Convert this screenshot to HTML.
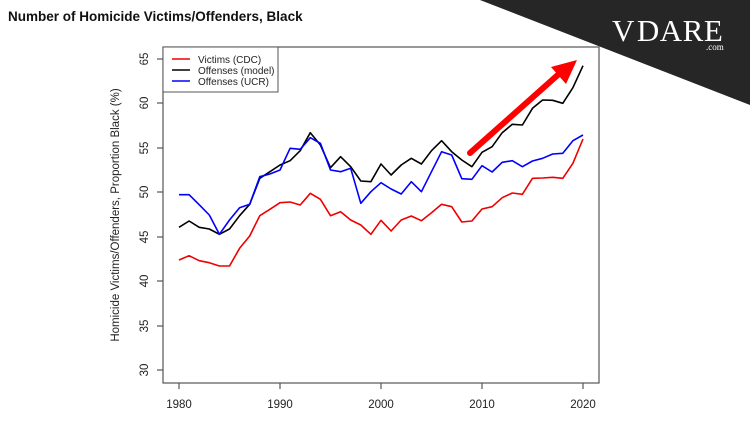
<!DOCTYPE html>
<html><head><meta charset="utf-8"><style>
html,body{margin:0;padding:0;background:#fff;}
svg{display:block;font-family:"Liberation Sans",Arial,sans-serif;}
</style></head><body>
<svg width="750" height="422" viewBox="0 0 750 422" xmlns="http://www.w3.org/2000/svg">
<rect width="750" height="422" fill="#fff"/>
<polygon points="480,0 750,0 750,105" fill="#262626"/>
<text x="612" y="41" font-family="Liberation Serif,serif" font-size="31" fill="#fff" letter-spacing="0.5">V<tspan dx="2">DARE</tspan></text>
<text x="706" y="50" font-family="Liberation Serif,serif" font-size="9" fill="#fff">.com</text>
<text x="8" y="21" font-size="13.5" font-weight="bold" fill="#111">Number of Homicide Victims/Offenders, Black</text>
<rect x="163" y="47" width="436" height="336" fill="none" stroke="#555" stroke-width="1.2"/>
<g stroke="#555" stroke-width="1.2">
<line x1="163" y1="370" x2="157" y2="370"/><line x1="163" y1="326" x2="157" y2="326"/>
<line x1="163" y1="281" x2="157" y2="281"/><line x1="163" y1="237" x2="157" y2="237"/>
<line x1="163" y1="192" x2="157" y2="192"/><line x1="163" y1="148" x2="157" y2="148"/>
<line x1="163" y1="103" x2="157" y2="103"/><line x1="163" y1="59" x2="157" y2="59"/>
<line x1="179" y1="383" x2="179" y2="389"/><line x1="280" y1="383" x2="280" y2="389"/>
<line x1="381" y1="383" x2="381" y2="389"/><line x1="482" y1="383" x2="482" y2="389"/>
<line x1="583" y1="383" x2="583" y2="389"/>
</g>
<g font-size="11.5" fill="#222" text-anchor="middle">
<text transform="translate(148,370) rotate(-90)">30</text>
<text transform="translate(148,326) rotate(-90)">35</text>
<text transform="translate(148,281) rotate(-90)">40</text>
<text transform="translate(148,237) rotate(-90)">45</text>
<text transform="translate(148,192) rotate(-90)">50</text>
<text transform="translate(148,148) rotate(-90)">55</text>
<text transform="translate(148,103) rotate(-90)">60</text>
<text transform="translate(148,59) rotate(-90)">65</text>
<text x="179" y="408">1980</text><text x="280" y="408">1990</text><text x="381" y="408">2000</text><text x="482" y="408">2010</text><text x="583" y="408">2020</text>
<text transform="translate(119,215) rotate(-90)">Homicide Victims/Offenders, Proportion Black (%)</text>
</g>
<g fill="none" stroke-width="1.6" stroke-linejoin="round">
<polyline stroke="#e00" points="179,260 189.1,255.7 199.2,260.7 209.3,262.7 219.4,266 229.5,266 239.6,248.3 249.7,236 259.8,215.7 269.9,209.3 280,202.7 290.1,202 300.2,205 310.3,193.3 320.4,199.3 330.5,215.7 340.6,211.7 350.7,220 360.8,225 370.9,234.3 381,220.3 391.1,231 401.2,220 411.3,216 421.4,220.7 431.5,212.7 441.6,204.3 451.7,206.7 461.8,222 471.9,221 482,209 492.1,206.7 502.2,197.7 512.3,193 522.4,194.3 532.5,178.3 542.6,178 552.7,177.3 562.8,178.3 572.9,163.3 583,139"/>
<polyline stroke="#000" points="179,227.3 189.1,221 199.2,227.3 209.3,229 219.4,234.3 229.5,229 239.6,215.7 249.7,204.3 259.8,178.3 269.9,171.7 280,165 290.1,160.7 300.2,150.7 310.3,132.7 320.4,145 330.5,167.7 340.6,156.7 350.7,166.7 360.8,181 370.9,181.7 381,164 391.1,175 401.2,165 411.3,158.3 421.4,164 431.5,150.7 441.6,140.7 451.7,151.7 461.8,160 471.9,166.7 482,152.3 492.1,146.7 502.2,132.7 512.3,124.3 522.4,125 532.5,108.3 542.6,100 552.7,100.3 562.8,103.3 572.9,87.7 583,65.7"/>
<polyline stroke="#00f" points="179,194.7 189.1,194.7 199.2,204.7 209.3,215 219.4,234.3 229.5,220 239.6,207.7 249.7,204.3 259.8,176.7 269.9,174 280,170 290.1,148.3 300.2,149.3 310.3,137.7 320.4,143.3 330.5,170 340.6,171.7 350.7,168.3 360.8,203.3 370.9,191.7 381,182.7 391.1,189 401.2,194 411.3,181.7 421.4,191.7 431.5,171.7 441.6,151.7 451.7,155 461.8,178.7 471.9,179.3 482,165.7 492.1,172 502.2,162.3 512.3,160.7 522.4,166.7 532.5,161 542.6,158.3 552.7,154 562.8,153.3 572.9,140.7 583,135"/>
</g>
<line x1="470" y1="153" x2="560" y2="73" stroke="#f00" stroke-width="6" stroke-linecap="round"/>
<polygon points="577,60 551,67 566,84" fill="#f00"/>
<rect x="163" y="47" width="115" height="45" fill="#fff" stroke="#555" stroke-width="1"/>
<g stroke-width="1.6">
<line x1="172" y1="59" x2="190" y2="59" stroke="#e00"/>
<line x1="172" y1="70" x2="190" y2="70" stroke="#000"/>
<line x1="172" y1="81" x2="190" y2="81" stroke="#00f"/>
</g>
<g font-size="10" fill="#222">
<text x="198" y="63">Victims (CDC)</text>
<text x="198" y="74">Offenses (model)</text>
<text x="198" y="85">Offenses (UCR)</text>
</g>
</svg>
</body></html>
